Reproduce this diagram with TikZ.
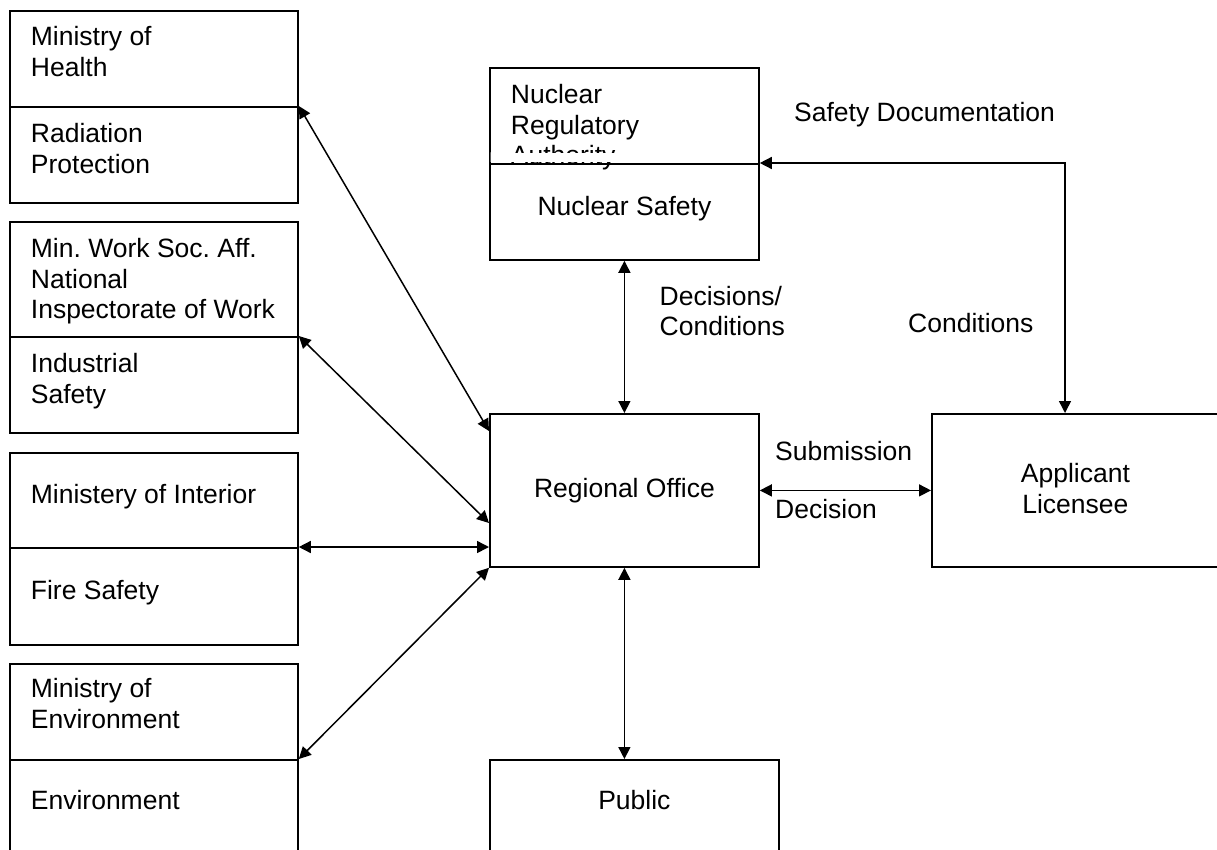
\documentclass[tikz,border=0pt]{standalone}
\usepackage{fontspec}
\setmainfont{Liberation Sans}
\usetikzlibrary{arrows.meta}

\begin{document}
\begin{tikzpicture}[x=1pt, y=-1pt,
    font=\fontsize{26.5pt}{30.5pt}\selectfont,
    unit/.style={draw, line width=1.8pt, inner xsep=21pt, inner ysep=0pt, anchor=north west},
    lbox/.style={unit, text width=246pt, execute at begin node={\raggedright\frenchspacing\spaceskip=0pt\xspaceskip=0pt}},
    cbox/.style={unit, execute at begin node={\centering\frenchspacing\spaceskip=0pt\xspaceskip=0pt}},
    tb/.style 2 args={text height=#1pt, text depth=#2pt},
    lbl/.style={anchor=base west, inner sep=0pt},
    link/.style={{Triangle[length=12pt,width=12pt]}-{Triangle[length=12pt,width=12pt]}, line width=1.5pt}]
    \useasboundingbox (0,0) rectangle (1217,849);
    \clip (0,0) rectangle (1217,849);
    % ministries
    \node[lbox, tb={35}{61}] (moh) at (9,10) {Ministry of\\Health};
    \node[lbox, tb={36}{60}] (rad) at (9,106) {Radiation\\Protection};
    \node[lbox, tb={36}{79}] (work) at (9,221) {Min. Work Soc. Aff.\\National\\Inspectorate of Work};
    \node[lbox, tb={36}{60}] (ind) at (9,336) {Industrial\\Safety};
    \node[lbox, tb={51}{44}] (intr) at (9,452) {Ministery of Interior};
    \node[lbox, tb={52}{45}] (fire) at (9,547) {Fire Safety};
    \node[lbox, tb={34}{62}] (envm) at (9,663) {Ministry of\\Environment};
    \node[lbox, tb={50}{46}] (envp) at (9,759) {Environment};
    % authority, text cut off at the divider
    \begin{scope}
        \clip (0,0) rectangle (1217,849) (756.5,152) rectangle (490.5,162.1);
        \node[lbox, text width=227pt, tb={36}{60}] (nra) at (489,67) {Nuclear\\Regulatory\\Authority};
    \end{scope}
    \node[cbox, text width=227pt, tb={52}{44}] (nsafe) at (489,163) {Nuclear Safety};
    \node[cbox, text width=227pt, tb={84}{69}] (reg) at (489,413) {Regional Office};
    \node[cbox, text width=247pt, tb={50}{46}] (pub) at (489,759) {Public};
    \node[cbox, text width=245pt, tb={69}{84}] (app) at (931,413) {Applicant\\Licensee};
    % labels
    \node[lbl] (sdoc) at (794,121) {Safety Documentation};
    \node[lbl, text width=140pt, execute at begin node=\raggedright] (dcond) at (659.5,305) {Decisions/\\Conditions};
    \node[lbl] (cond) at (908,332) {Conditions};
    \node[lbl] (subm) at (775,460) {Submission};
    \node[lbl] (deci) at (775,518) {Decision};
    % connections
    \draw[link] (rad.north east) -- ([yshift=-18pt]reg.north west);
    \draw[link] (ind.north east) -- ([yshift=-110pt]reg.north west);
    \draw[link] (fire.north east) -- (fire.north east -| reg.west);
    \draw[link] (envp.north east) -- (reg.south west);
    \draw[link] (nsafe.south) -- (reg.north);
    \draw[link] (reg.south) -- (reg.south |- pub.north);
    \draw[link] (reg.east) -- (app.west);
    \draw[link] (nsafe.north east) -| ([xshift=134pt]app.north west);
\end{tikzpicture}
\end{document}
